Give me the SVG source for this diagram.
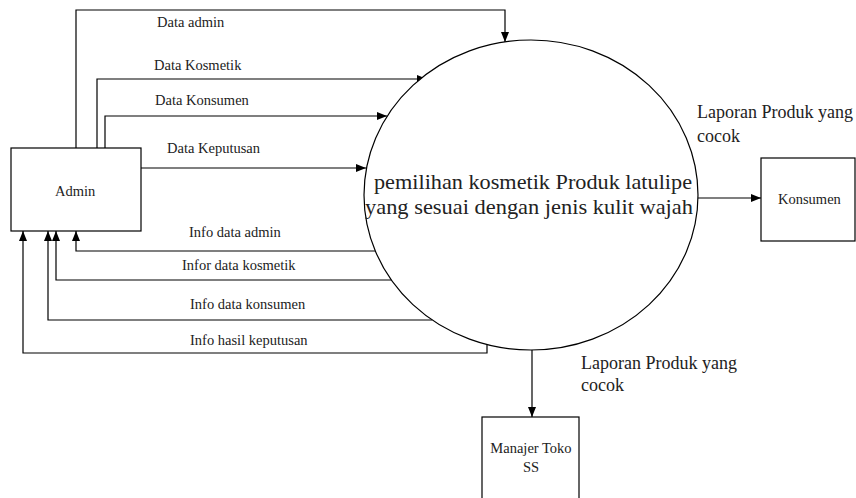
<svg xmlns="http://www.w3.org/2000/svg" width="856" height="498" viewBox="0 0 856 498">
<style>
.box{fill:#fff;stroke:#000;stroke-width:1.2}
.ln{fill:none;stroke:#000;stroke-width:1.2}
.t{font-family:"Liberation Serif","Times New Roman",serif;font-size:14.5px;fill:#222}
.tl{font-family:"Liberation Serif","Times New Roman",serif;font-size:18px;fill:#222}
.tc{font-family:"Liberation Serif","Times New Roman",serif;font-size:22px;fill:#222}
</style>
<defs>
<marker id="arr" viewBox="0 0 10 8" refX="10" refY="4" markerWidth="10" markerHeight="8" orient="auto" markerUnits="userSpaceOnUse"><path d="M0,0 L10,4 L0,8 z" fill="#000"/></marker>
</defs>
<g id="connectors">
<path class="ln" d="M76,148 V10 H505 V42" marker-end="url(#arr)"/>
<path class="ln" d="M97,148 V79 H427" marker-end="url(#arr)"/>
<path class="ln" d="M105,148 V116 H387" marker-end="url(#arr)"/>
<path class="ln" d="M141,168 H366" marker-end="url(#arr)"/>
<path class="ln" d="M375,251 H76 V231" marker-end="url(#arr)"/>
<path class="ln" d="M391,280 H56 V231" marker-end="url(#arr)"/>
<path class="ln" d="M432,320 H48 V231" marker-end="url(#arr)"/>
<path class="ln" d="M487,344 V353 H23 V231" marker-end="url(#arr)"/>
<path class="ln" d="M698,198 H761" marker-end="url(#arr)"/>
<path class="ln" d="M532,350 V417" marker-end="url(#arr)"/>
<text class="t" x="157" y="27">Data admin</text>
<text class="t" x="154" y="70">Data Kosmetik</text>
<text class="t" x="155" y="105">Data Konsumen</text>
<text class="t" x="167" y="153">Data Keputusan</text>
<text class="t" x="189" y="237">Info data admin</text>
<text class="t" x="182" y="270">Infor data kosmetik</text>
<text class="t" x="190" y="309">Info data konsumen</text>
<text class="t" x="190" y="345">Info hasil keputusan</text>
<text class="tl" x="697" y="118">Laporan Produk yang</text>
<text class="tl" x="697" y="142">cocok</text>
<text class="tl" x="581" y="369">Laporan Produk yang</text>
<text class="tl" x="581" y="391">cocok</text>
</g>
<g id="admin">
<rect class="box" x="11" y="148" width="130" height="83"/>
<text class="t" x="55" y="196">Admin</text>
</g>
<g id="process">
<ellipse class="box" cx="531" cy="195" rx="167" ry="155"/>
<text class="tc" x="374" y="189" textLength="318" lengthAdjust="spacingAndGlyphs">pemilihan kosmetik Produk latulipe</text>
<text class="tc" x="365" y="214" textLength="328" lengthAdjust="spacingAndGlyphs">yang sesuai dengan jenis kulit wajah</text>
</g>
<g id="konsumen">
<rect class="box" x="761" y="158" width="94" height="83"/>
<text class="t" x="778" y="204">Konsumen</text>
</g>
<g id="manajer">
<rect class="box" x="482" y="417" width="97" height="90"/>
<text class="t" x="531" y="453" text-anchor="middle">Manajer Toko</text>
<text class="t" x="531" y="472" text-anchor="middle">SS</text>
</g>
</svg>
